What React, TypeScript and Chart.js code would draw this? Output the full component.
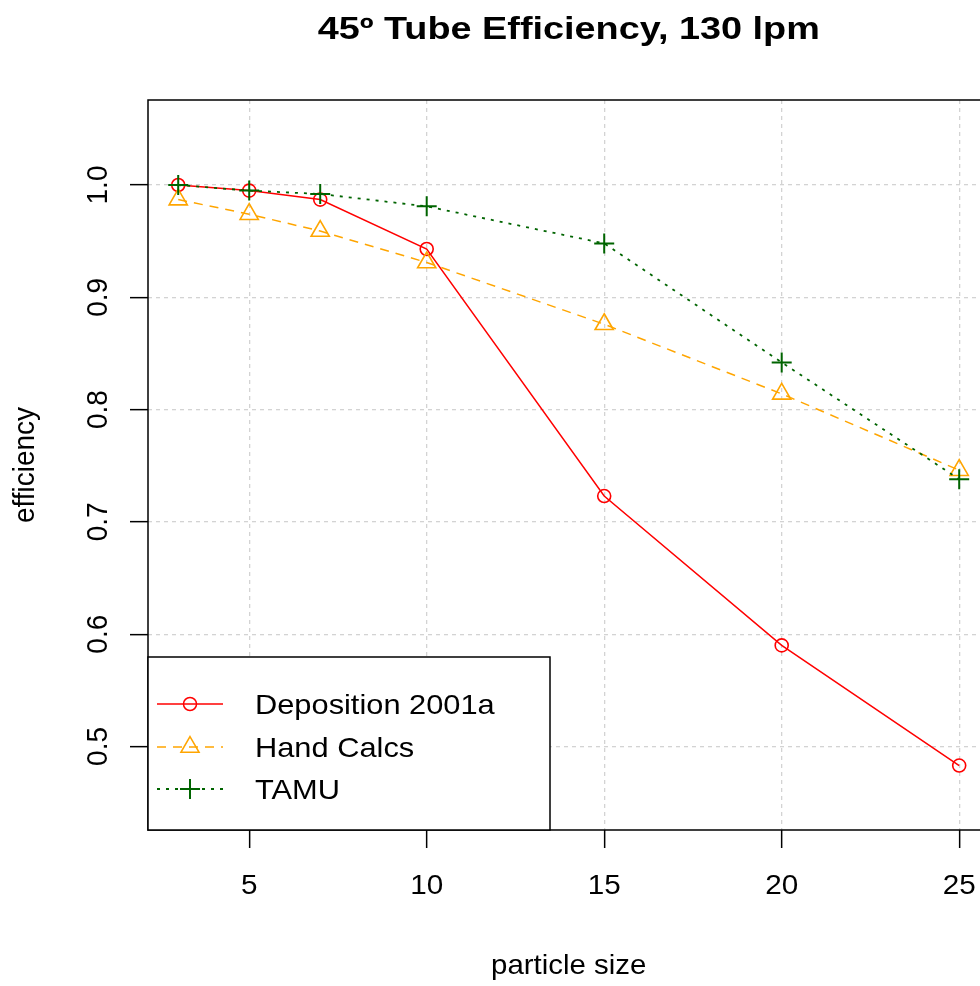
import React, { useEffect, useRef } from 'react';
import { Chart, registerables } from 'chart.js';

Chart.register(...registerables);

const chartTitle = '45º Tube Efficiency, 130 lpm';
const xAxisTitle = 'particle size';
const yAxisTitle = 'efficiency';

const particleSizes = [3, 5, 7, 10, 15, 20, 25];
const deposition2001a = [1.0, 0.995, 0.987, 0.943, 0.723, 0.590, 0.483];
const handCalcs = [0.987, 0.974, 0.959, 0.931, 0.876, 0.814, 0.746];
const tamu = [1.0, 0.995, 0.992, 0.981, 0.948, 0.842, 0.738];

const seriesNames = ['Deposition 2001a', 'Hand Calcs', 'TAMU'];
const seriesColors = ['#FF0000', '#FFA500', '#006400'];

const xTicks = [5, 10, 15, 20, 25];
const xTickLabels = ['5', '10', '15', '20', '25'];
const yTicks = [0.5, 0.6, 0.7, 0.8, 0.9, 1.0];
const yTickLabels = ['0.5', '0.6', '0.7', '0.8', '0.9', '1.0'];

const FONT = "'Liberation Sans', Arial, sans-serif";

function drawText(
  ctx: CanvasRenderingContext2D,
  text: string,
  x: number,
  y: number,
  font: string,
  sx: number,
  rotated: boolean,
  align: CanvasTextAlign
) {
  ctx.save();
  ctx.translate(x, y);
  if (rotated) {
    ctx.rotate(-Math.PI / 2);
    ctx.scale(1, sx);
  } else {
    ctx.scale(sx, 1);
  }
  ctx.font = font;
  ctx.textAlign = align;
  ctx.textBaseline = 'alphabetic';
  ctx.fillStyle = '#000';
  ctx.fillText(text, 0, 0);
  ctx.restore();
}

const dashes = [[], [9, 7], [3, 6]];
const lineWidths = [1.5, 1.5, 1.8];
const markers = ['circle', 'triangle', 'cross'];
const markerRadius = [6.5, 10.5, 10];

function drawMarker(ctx: CanvasRenderingContext2D, kind: string, x: number, y: number, r: number) {
  ctx.beginPath();
  if (kind === 'circle') {
    ctx.arc(x, y, r, 0, Math.PI * 2);
  } else if (kind === 'triangle') {
    for (let i = 0; i < 3; i++) {
      const a = (i * 2 * Math.PI) / 3;
      const px = x + Math.sin(a) * r;
      const py = y - Math.cos(a) * r;
      if (i === 0) ctx.moveTo(px, py);
      else ctx.lineTo(px, py);
    }
    ctx.closePath();
  } else {
    ctx.moveTo(x - r, y);
    ctx.lineTo(x + r, y);
    ctx.moveTo(x, y - r);
    ctx.lineTo(x, y + r);
  }
  ctx.stroke();
}

const decorPlugin = {
  id: 'rDecor',
  afterDatasetsDraw(chart: any) {
    const { ctx, chartArea } = chart;
    const { left, top, right, bottom } = chartArea;

    // frame (right side lies beyond the picture)
    ctx.save();
    ctx.strokeStyle = '#000';
    ctx.lineWidth = 1.5;
    ctx.beginPath();
    ctx.moveTo(right + 10, top);
    ctx.lineTo(left, top);
    ctx.lineTo(left, bottom);
    ctx.lineTo(right + 10, bottom);
    ctx.stroke();
    ctx.restore();

    // legend
    const lx = left;
    const lw = 402;
    const lh = 173;
    const ly = bottom - lh;
    ctx.save();
    ctx.fillStyle = '#fff';
    ctx.fillRect(lx, ly, lw, lh);
    ctx.strokeStyle = '#000';
    ctx.lineWidth = 1.5;
    ctx.strokeRect(lx, ly, lw, lh);
    const rowBase = [57, 100, 142];
    for (let i = 0; i < seriesNames.length; i++) {
      const cy = ly + rowBase[i] - 10;
      ctx.save();
      ctx.strokeStyle = seriesColors[i];
      ctx.lineWidth = lineWidths[i];
      ctx.setLineDash(dashes[i]);
      ctx.beginPath();
      ctx.moveTo(lx + 9, cy);
      ctx.lineTo(lx + 75, cy);
      ctx.stroke();
      ctx.setLineDash([]);
      ctx.lineWidth = i === 2 ? 2 : 1.5;
      drawMarker(ctx, markers[i], lx + 42, cy, markerRadius[i]);
      ctx.restore();
      drawText(ctx, seriesNames[i], lx + 107, ly + rowBase[i], `28px ${FONT}`, 1.1, false, 'left');
    }
    ctx.restore();
  },
  afterDraw(chart: any) {
    const { ctx, chartArea } = chart;
    const xs = chart.scales.x;
    const ys = chart.scales.y;
    const { left, top, bottom } = chartArea;
    const midX = xs.getPixelForValue((particleSizes[0] + particleSizes[particleSizes.length - 1]) / 2);
    const midY = (top + bottom) / 2;

    drawText(ctx, chartTitle, midX, 39, `bold 31px ${FONT}`, 1.22, false, 'center');

    for (let i = 0; i < xTicks.length; i++) {
      drawText(ctx, xTickLabels[i], xs.getPixelForValue(xTicks[i]), bottom + 64, `28px ${FONT}`, 1.06, false, 'center');
    }
    for (let i = 0; i < yTicks.length; i++) {
      drawText(ctx, yTickLabels[i], left - 41, ys.getPixelForValue(yTicks[i]), `28px ${FONT}`, 1.06, true, 'center');
    }
    drawText(ctx, xAxisTitle, midX, bottom + 144, `28px ${FONT}`, 1.05, false, 'center');
    drawText(ctx, yAxisTitle, 34, midY, `28px ${FONT}`, 1.06, true, 'center');
  },
};

export default function App() {
  const ref = useRef<HTMLCanvasElement | null>(null);

  useEffect(() => {
    if (!ref.current) return;
    const series = [deposition2001a, handCalcs, tamu];
    const chart = new Chart(ref.current, {
      type: 'line',
      data: {
        datasets: series.map((vals, i) => ({
          label: seriesNames[i],
          data: particleSizes.map((x, j) => ({ x, y: vals[j] })),
          borderColor: seriesColors[i],
          borderWidth: lineWidths[i],
          borderDash: dashes[i],
          pointStyle: markers[i] as any,
          pointRadius: markerRadius[i],
          pointBorderColor: seriesColors[i],
          pointBackgroundColor: 'rgba(0,0,0,0)',
          pointBorderWidth: i === 2 ? 2 : 1.6,
          fill: false,
          tension: 0,
          order: 3 - i,
        })),
      },
      options: {
        animation: false,
        responsive: false,
        devicePixelRatio: 1,
        events: [],
        layout: { autoPadding: false, padding: { top: 100, left: 0, right: 0, bottom: 0 } },
        plugins: {
          legend: { display: false },
          title: { display: false },
          tooltip: { enabled: false },
        },
        scales: {
          x: {
            type: 'linear',
            min: 2.149,
            max: 25.586,
            afterBuildTicks: (s: any) => {
              s.ticks = xTicks.map((v) => ({ value: v }));
            },
            afterFit: (s: any) => {
              s.height = 156;
            },
            ticks: { display: false },
            grid: {
              color: '#D3D3D3',
              lineWidth: 1.3,
              drawTicks: true,
              tickLength: 18,
              tickColor: '#000',
              tickWidth: 1.5,
            },
            border: { display: false, dash: [4, 4] },
          },
          y: {
            type: 'linear',
            min: 0.4256,
            max: 1.0757,
            afterBuildTicks: (s: any) => {
              s.ticks = yTicks.map((v) => ({ value: v }));
            },
            afterFit: (s: any) => {
              s.width = 148;
            },
            ticks: { display: false },
            grid: {
              color: '#D3D3D3',
              lineWidth: 1.3,
              drawTicks: true,
              tickLength: 18,
              tickColor: '#000',
              tickWidth: 1.5,
            },
            border: { display: false, dash: [4, 4] },
          },
        },
      } as any,
      plugins: [decorPlugin],
    });
    return () => chart.destroy();
  }, []);

  return (
    <div style={{ position: 'absolute', left: 0, top: 0, width: 980, height: 986, background: '#fff' }}>
      <canvas ref={ref} width={980} height={986} style={{ display: 'block' }} />
    </div>
  );
}
